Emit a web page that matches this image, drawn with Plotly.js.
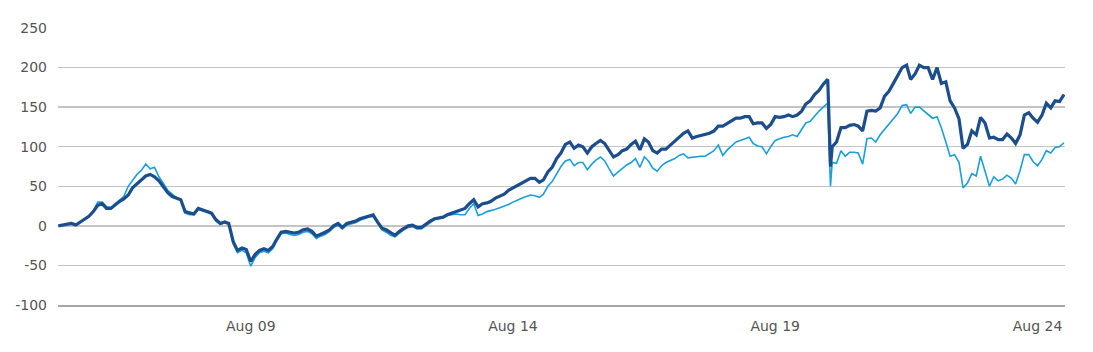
<!DOCTYPE html>
<html>
<head>
<meta charset="utf-8">
<script src="https://cdn.plot.ly/plotly-3.0.1.min.js"></script>
<style>
  html, body { margin: 0; padding: 0; background: #ffffff; }
  #chart { width: 1093px; height: 352px; }
</style>
</head>
<body>
<div id="chart"></div>
<script>
// Monthly observations starting Dec 2005
const startYear = 2005;
const startMonthIndex = 11; // December (0-based)

const darkSeries = [
  0,1,2,3,1,5,8,12,18,26,
  28,22,22,27,31,34,39,48,53,58,
  63,65,62,57,50,42,37,35,33,18,
  16,15,22,20,19,16,8,3,5,3,
  -20,-31,-28,-30,-45,-36,-31,-29,-31,-26,
  -16,-8,-7,-8,-9,-8,-5,-4,-7,-13,
  -10,-8,-5,0,3,-2,3,4,6,9,
  11,13,14,5,-3,-5,-9,-12,-7,-3,
  0,1,-2,-2,2,6,9,10,11,14,
  16,18,20,22,28,33,24,28,29,31,
  35,37,40,45,48,51,54,58,60,60,
  55,58,68,74,85,92,103,106,98,102,
  100,92,100,104,108,104,95,87,90,95,
  97,103,107,96,110,106,95,92,97,97,
  102,107,112,117,120,111,113,114,115,117,
  120,126,126,129,133,136,136,138,138,129,
  130,130,123,128,138,137,138,140,138,140,
  145,154,158,166,171,179,185,100,106,124,
  124,127,128,126,120,145,146,145,149,164,
  170,180,190,200,203,185,192,203,200,200,
  185,200,180,182,158,149,135,98,103,120,
  115,137,130,111,112,109,109,116,111,104,
  115,140,143,136,131,140,155,149,158,157,
  166
];

const lightSeries = [
  0,1,2,4,2,5,8,12,19,30,
  30,24,23,28,33,37,50,58,65,70,
  78,72,74,62,53,45,40,36,33,16,
  14,14,21,19,19,15,6,2,4,2,
  -23,-34,-31,-34,-51,-40,-34,-32,-34,-29,
  -18,-10,-9,-11,-12,-11,-8,-7,-10,-16,
  -13,-11,-7,-2,1,-4,1,2,4,7,
  9,11,12,3,-5,-8,-12,-14,-9,-5,
  -2,-1,-4,-4,0,4,8,9,10,13,
  14,15,14,14,22,28,13,15,18,19,
  21,23,25,27,30,33,35,37,39,38,
  36,40,50,56,65,75,82,84,76,80,
  80,71,78,83,87,82,72,63,68,73,
  77,80,85,74,87,82,73,69,76,80,
  83,85,89,91,86,87,88,88,88,91,
  95,102,89,96,101,106,108,110,112,104,
  101,100,91,100,108,110,112,113,115,113,
  122,130,132,139,145,150,155,80,79,95,
  88,93,93,92,78,110,111,106,115,122,
  128,135,142,152,153,142,150,150,145,140,
  136,138,124,106,88,90,80,48,54,66,
  63,88,70,50,62,57,59,64,60,53,
  70,90,90,81,76,84,95,92,99,100,
  105
];

// Intra-month low of the sharp drop
const crashDate = "2020-08-20";
const crashDark = 75;
const crashLight = 50;

const tickStart = "2009-08-01";
const tickStep = "M60";
const yTickVals = [-100, -50, 0, 50, 100, 150, 200, 250];
const yTickText = ["-100", "-50", "0", "50", "100", "150", "200", "250"];

function buildDates(n) {
  const out = [];
  for (let i = 0; i < n; i++) {
    const d = new Date(Date.UTC(startYear, startMonthIndex + i, 1));
    out.push(d.toISOString().slice(0, 10));
  }
  return out;
}

function withCrash(dates, values, cDate, cVal) {
  const xs = [], ys = [];
  let inserted = false;
  for (let i = 0; i < dates.length; i++) {
    if (!inserted && dates[i] > cDate) { xs.push(cDate); ys.push(cVal); inserted = true; }
    xs.push(dates[i]); ys.push(values[i]);
  }
  return { xs, ys };
}

const baseDates = buildDates(darkSeries.length);
const dk = withCrash(baseDates, darkSeries, crashDate, crashDark);
const lt = withCrash(baseDates, lightSeries, crashDate, crashLight);

const traces = [
  { x: lt.xs, y: lt.ys, type: 'scatter', mode: 'lines', name: 'Light',
    line: { color: '#1a9fdb', width: 1.6 }, hoverinfo: 'skip' },
  { x: dk.xs, y: dk.ys, type: 'scatter', mode: 'lines', name: 'Dark',
    line: { color: '#1c4d8c', width: 3.2 }, hoverinfo: 'skip' }
];

const layout = {
  width: 1093, height: 352,
  margin: { l: 58, r: 28, t: 28, b: 47 },
  paper_bgcolor: '#ffffff', plot_bgcolor: '#ffffff',
  showlegend: false,
  font: { family: '"DejaVu Sans", "Open Sans", sans-serif', size: 14, color: '#555555' },
  xaxis: {
    type: 'date',
    range: ['2005-11-28', '2025-02-08'],
    tick0: tickStart, dtick: tickStep, tickformat: '%b %y',
    showgrid: false, zeroline: false,
    showline: true, linecolor: '#a6a6a6', linewidth: 1.5,
    ticks: '', ticklabelstandoff: 8,
    tickfont: { size: 14, color: '#555555' }
  },
  yaxis: {
    range: [-100, 250],
    tickvals: yTickVals, ticktext: yTickText,
    showgrid: true, gridcolor: '#c4c4c4', gridwidth: 1.5,
    zeroline: false, showline: false,
    ticks: '', ticklabelstandoff: 10,
    tickfont: { size: 14, color: '#555555' }
  }
};

Plotly.newPlot('chart', traces, layout, { displayModeBar: false, staticPlot: true });
</script>
</body>
</html>
